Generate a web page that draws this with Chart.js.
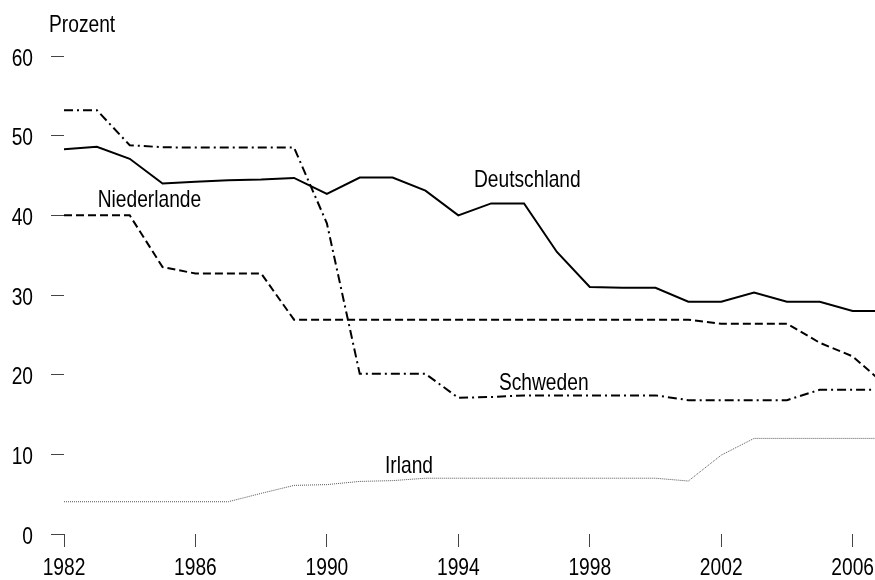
<!DOCTYPE html>
<html lang="de">
<head>
<meta charset="utf-8">
<title>Prozent</title>
<script src="https://cdn.jsdelivr.net/npm/chart.js@4/dist/chart.umd.min.js"></script>
<style>
  html, body { margin: 0; padding: 0; background: #fff; overflow: hidden; }
  #wrap { width: 900px; height: 580px; }
</style>
</head>
<body>
<div id="wrap"><canvas id="c" width="900" height="580"></canvas></div>
<script>
// Jahre 1982 bis 2007
const years = [1982, 1983, 1984, 1985, 1986, 1987, 1988, 1989, 1990, 1991, 1992, 1993, 1994,
               1995, 1996, 1997, 1998, 1999, 2000, 2001, 2002, 2003, 2004, 2005, 2006, 2007];

// Werte in Prozent
const deutschland = [48.3, 48.6, 47.1, 44.0, 44.2, 44.4, 44.5, 44.7, 42.7, 44.75, 44.75, 43.1, 40.0,
                     41.5, 41.5, 35.4, 31.0, 30.9, 30.9, 29.15, 29.15, 30.3, 29.15, 29.15, 28.0, 28.0];
const niederlande = [40.0, 40.0, 40.0, 33.5, 32.7, 32.7, 32.7, 26.9, 26.9, 26.9, 26.9, 26.9, 26.9,
                     26.9, 26.9, 26.9, 26.9, 26.9, 26.9, 26.9, 26.4, 26.4, 26.4, 24.0, 22.3, 18.7];
const schweden    = [53.2, 53.2, 48.8, 48.55, 48.5, 48.5, 48.5, 48.5, 39.0, 20.1, 20.1, 20.1, 17.1,
                     17.2, 17.4, 17.4, 17.4, 17.4, 17.4, 16.8, 16.8, 16.8, 16.8, 18.1, 18.1, 18.1];
const irland      = [4.05, 4.05, 4.05, 4.05, 4.05, 4.05, 5.1, 6.1, 6.2, 6.6, 6.7, 7.0, 7.0,
                     7.0, 7.0, 7.0, 7.0, 7.0, 7.0, 6.65, 9.9, 12.0, 12.0, 12.0, 12.0, 12.0];

// Achsenbeschriftungen
const xTicks = [1982, 1986, 1990, 1994, 1998, 2002, 2006];
const yTicks = [0, 10, 20, 30, 40, 50, 60];

// Beschriftungen an den Linien: [Text, Jahr, Wert der Grundlinie]
const lineLabels = [
  ['Deutschland', 1996.1, 43.6],
  ['Niederlande', 1984.6, 41.0],
  ['Schweden', 1996.6, 18.1],
  ['Irland', 1992.5, 7.6]
];

const FONT = "'Liberation Sans', Arial, sans-serif";
const FONT_SIZE = 24;
const NARROW = 0.8; // schmale Schrift: horizontale Stauchung

const toPoints = vals => vals.map((v, i) => ({ x: years[i], y: v }));

// Schmaler Text: fillText mit maxWidth staucht horizontal
function fillNarrow(ctx, orig, t, x, y, mw) {
  const w = ctx.measureText(t).width * NARROW;
  return orig.call(ctx, t, x, y, mw !== undefined ? Math.min(mw, w) : w);
}

const narrowText = {
  id: 'narrowText',
  beforeDraw(chart) {
    const ctx = chart.ctx;
    if (ctx._origFillText) return;
    const orig = ctx.fillText;
    ctx._origFillText = orig;
    ctx.fillText = function (t, x, y, mw) { return fillNarrow(this, orig, t, x, y, mw); };
  },
  afterDraw(chart) {
    const ctx = chart.ctx;
    if (ctx._origFillText) {
      ctx.fillText = ctx._origFillText;
      delete ctx._origFillText;
    }
  }
};

const labelPlugin = {
  id: 'lineLabels',
  afterDraw(chart) {
    const { ctx, scales: { x, y }, chartArea } = chart;
    const orig = ctx._origFillText || ctx.fillText;
    ctx.save();
    ctx.fillStyle = '#000';
    ctx.font = FONT_SIZE + 'px ' + FONT;
    ctx.textBaseline = 'alphabetic';
    ctx.textAlign = 'center';
    lineLabels.forEach(([text, yr, val]) => {
      fillNarrow(ctx, orig, text, x.getPixelForValue(yr), y.getPixelForValue(val));
    });
    ctx.textAlign = 'left';
    fillNarrow(ctx, orig, 'Prozent', chartArea.left - 15, chartArea.top - 24);
    ctx.restore();
  }
};

new Chart(document.getElementById('c'), {
  type: 'line',
  data: {
    datasets: [
      { label: 'Deutschland', data: toPoints(deutschland), borderColor: '#000', borderWidth: 2 },
      { label: 'Niederlande', data: toPoints(niederlande), borderColor: '#000', borderWidth: 2, borderDash: [8, 4] },
      { label: 'Schweden', data: toPoints(schweden), borderColor: '#000', borderWidth: 2, borderDash: [9, 4, 2, 4] },
      { label: 'Irland', data: toPoints(irland), borderColor: '#555', borderWidth: 1, borderDash: [1, 1] }
    ]
  },
  options: {
    responsive: false,
    animation: false,
    devicePixelRatio: 1,
    layout: { padding: { top: 56, right: 14.5, bottom: 0, left: 0 } },
    elements: { point: { radius: 0 }, line: { tension: 0, borderCapStyle: 'butt' } },
    plugins: { legend: { display: false }, tooltip: { enabled: false } },
    scales: {
      x: {
        type: 'linear',
        min: 1982,
        max: 2007,
        afterBuildTicks: s => { s.ticks = xTicks.map(v => ({ value: v })); },
        afterFit: s => { s.height = 46; },
        ticks: {
          autoSkip: false, maxRotation: 0, padding: 7, color: '#000',
          font: { family: FONT, size: FONT_SIZE },
          callback: v => String(v)
        },
        grid: { drawOnChartArea: false, drawTicks: true, tickLength: 13, color: '#444', lineWidth: 1 },
        border: { display: false }
      },
      y: {
        min: 0,
        max: 60,
        afterBuildTicks: s => { s.ticks = yTicks.map(v => ({ value: v })); },
        afterFit: s => { s.width = 64; },
        ticks: {
          padding: 18, color: '#000', labelOffset: 3,
          font: { family: FONT, size: FONT_SIZE }
        },
        grid: { drawOnChartArea: false, drawTicks: true, tickLength: 13, color: '#444', lineWidth: 1 },
        border: { display: false }
      }
    }
  },
  plugins: [narrowText, labelPlugin]
});
</script>
</body>
</html>
